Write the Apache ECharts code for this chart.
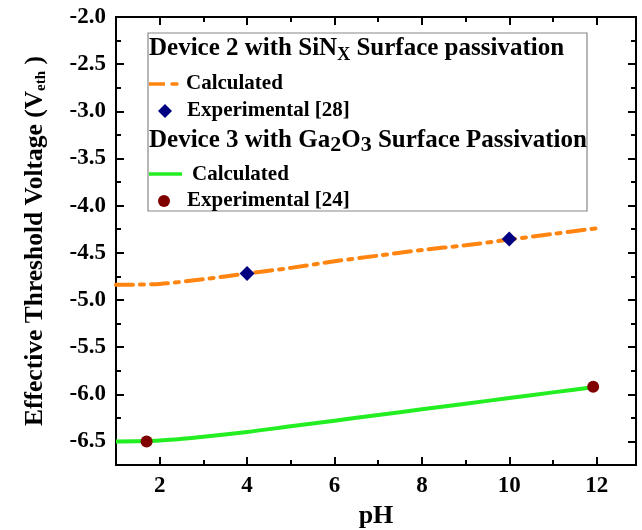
<!DOCTYPE html>
<html>
<head>
<meta charset="utf-8">
<script src="https://cdn.jsdelivr.net/npm/echarts@6/dist/echarts.min.js"></script>
<style>
html,body{margin:0;padding:0;background:#fff;}
#chart{width:642px;height:530px;}
</style>
</head>
<body>
<div id="chart"></div>
<script>
// ---- data ----
const calcPH = [1, 2, 3, 4, 5, 6, 7, 8, 9, 10, 11, 12];
const sinxCalc = [-4.84, -4.83, -4.78, -4.72, -4.66, -4.59, -4.53, -4.47, -4.42, -4.36, -4.30, -4.24];
const ga2o3Calc = [-6.50, -6.49, -6.45, -6.40, -6.34, -6.28, -6.22, -6.16, -6.10, -6.04, -5.98, -5.92];
const sinxExpPH = [4, 10];
const sinxExpV = [-4.72, -4.355];
const ga2o3ExpPH = [1.7, 11.92];
const ga2o3ExpV = [-6.50, -5.92];
const xMajorTicks = [2, 4, 6, 8, 10, 12];
const xMinorTicks = [3, 5, 7, 9, 11];
const yMajorTicks = [-6.5, -6.0, -5.5, -5.0, -4.5, -4.0, -3.5, -3.0, -2.5, -2.0];
const yMinorTicks = [-6.25, -5.75, -5.25, -4.75, -4.25, -3.75, -3.25, -2.75, -2.25];
const legendTitles = ['Device 2 with SiN', 'X', ' Surface passivation', 'Device 3 with Ga', '2', 'O', '3', ' Surface Passivation'];
const legendItems = ['Calculated', 'Experimental [28]', 'Calculated', 'Experimental [24]'];

const FONT = 'Liberation Serif, Times New Roman, serif';
const ORANGE = '#ff8410';
const GREEN = '#22ee22';
const NAVY = '#000080';
const DRED = '#800000';

const zip = (a, b) => a.map((v, i) => [v, b[i]]);
const near = (v, list) => list.some(t => Math.abs(t - v) < 1e-6);

function xAxisDef(pos, ticks, len, withLabels) {
  return {
    type: 'value', position: pos, min: 1, max: 12.9, interval: 1,
    axisLine: { show: true, onZero: false, lineStyle: { color: '#000', width: 2 } },
    axisTick: { show: true, inside: true, length: len, customValues: ticks, lineStyle: { color: '#000', width: 2 } },
    axisLabel: withLabels ? {
      show: true, showMaxLabel: false, margin: 10, color: '#000',
      fontFamily: FONT, fontWeight: 'bold', fontSize: 23,
      formatter: v => near(v, xMajorTicks) ? String(Math.round(v)) : ''
    } : { show: false },
    splitLine: { show: false }
  };
}
function yAxisDef(pos, ticks, len, withLabels) {
  return {
    type: 'value', position: pos, min: -6.75, max: -2.0, interval: 0.25,
    axisLine: { show: true, onZero: false, lineStyle: { color: '#000', width: 2 } },
    axisTick: { show: true, inside: true, length: len, customValues: ticks, lineStyle: { color: '#000', width: 2 } },
    axisLabel: withLabels ? {
      show: true, margin: 10, color: '#000',
      fontFamily: FONT, fontWeight: 'bold', fontSize: 23,
      formatter: v => near(v, yMajorTicks) ? Number(v).toFixed(1) : ''
    } : { show: false },
    splitLine: { show: false }
  };
}

const xa0 = xAxisDef('bottom', xMajorTicks, 8, true);
xa0.name = 'pH';
xa0.nameLocation = 'middle';
xa0.nameGap = 38;
xa0.nameTextStyle = { color: '#000', fontFamily: FONT, fontWeight: 'bold', fontSize: 26 };

const ya0 = yAxisDef('left', yMajorTicks, 8, true);
ya0.name = '{a|Effective Threshold Voltage (V}{s|eth}{a| )}';
ya0.nameLocation = 'middle';
ya0.nameRotate = 90;
ya0.nameGap = 67;
ya0.nameTextStyle = {
  color: '#000', fontFamily: FONT, fontWeight: 'bold', fontSize: 25,
  rich: {
    a: { color: '#000', fontFamily: FONT, fontWeight: 'bold', fontSize: 25.5, lineHeight: 27 },
    s: { color: '#000', fontFamily: FONT, fontWeight: 'bold', fontSize: 15, lineHeight: 12, verticalAlign: 'bottom' }
  }
};

const txt = (x, y, text, size, rich) => ({
  type: 'text', x: x, y: y, z: 11,
  style: { text: text, fill: '#000', fontFamily: FONT, fontWeight: 'bold', fontSize: size, verticalAlign: 'middle', align: 'left', rich: rich }
});

const titleRich1 = {
  a: { fill: '#000', fontFamily: FONT, fontWeight: 'bold', fontSize: 25, lineHeight: 30 },
  s: { fill: '#000', fontFamily: FONT, fontWeight: 'bold', fontSize: 18, lineHeight: 14, verticalAlign: 'bottom' }
};
const titleRich2 = {
  a: { fill: '#000', fontFamily: FONT, fontWeight: 'bold', fontSize: 25, lineHeight: 30 },
  s: { fill: '#000', fontFamily: FONT, fontWeight: 'bold', fontSize: 22, lineHeight: 20, verticalAlign: 'bottom' }
};

const option = {
  backgroundColor: '#fff',
  animation: false,
  textStyle: { fontFamily: FONT, fontWeight: 'bold', color: '#000' },
  grid: { left: 116, right: 6, top: 17, bottom: 65, containLabel: false, outerBoundsMode: 'none' },
  xAxis: [
    xa0,
    xAxisDef('bottom', xMinorTicks, 5, false),
    xAxisDef('top', xMajorTicks, 8, false),
    xAxisDef('top', xMinorTicks, 5, false)
  ],
  yAxis: [
    ya0,
    yAxisDef('left', yMinorTicks, 5, false),
    yAxisDef('right', yMajorTicks, 8, false),
    yAxisDef('right', yMinorTicks, 5, false)
  ],
  series: [
    {
      name: 'SiNx Calculated', type: 'line', data: zip(calcPH, sinxCalc), smooth: 0.3,
      showSymbol: false, symbol: 'none',
      lineStyle: { color: ORANGE, width: 4, type: [17, 7, 4, 7], cap: 'round' }, z: 2
    },
    {
      name: 'SiNx Experimental [28]', type: 'scatter', data: zip(sinxExpPH, sinxExpV),
      symbol: 'diamond', symbolSize: 15, itemStyle: { color: NAVY, opacity: 1 }, z: 3
    },
    {
      name: 'Ga2O3 Calculated', type: 'line', data: zip(calcPH, ga2o3Calc), smooth: 0.3,
      showSymbol: false, symbol: 'none',
      lineStyle: { color: GREEN, width: 4 }, z: 2
    },
    {
      name: 'Ga2O3 Experimental [24]', type: 'scatter', data: zip(ga2o3ExpPH, ga2o3ExpV),
      symbol: 'circle', symbolSize: 12, itemStyle: { color: DRED, opacity: 1 }, z: 3
    }
  ],
  graphic: [
    { type: 'rect', shape: { x: 148, y: 33, width: 439, height: 178 }, style: { fill: '#fff', stroke: '#888', lineWidth: 1.2 }, z: 10 },
    txt(149, 49, '{a|' + legendTitles[0] + '}{s|' + legendTitles[1] + '}{a|' + legendTitles[2] + '}', 25, titleRich1),
    { type: 'line', shape: { x1: 149, y1: 84, x2: 165, y2: 84 }, style: { stroke: ORANGE, lineWidth: 3.5 }, z: 11 },
    { type: 'line', shape: { x1: 172, y1: 84, x2: 177, y2: 84 }, style: { stroke: ORANGE, lineWidth: 3.5, lineCap: 'round' }, z: 11 },
    txt(186, 84, legendItems[0], 21),
    { type: 'polygon', shape: { points: [[165, 104], [172, 111], [165, 118], [158, 111]] }, style: { fill: NAVY }, z: 11 },
    txt(187, 111, legendItems[1], 21),
    txt(149, 141, '{a|' + legendTitles[3] + '}{s|' + legendTitles[4] + '}{a|' + legendTitles[5] + '}{s|' + legendTitles[6] + '}{a|' + legendTitles[7] + '}', 25, titleRich2),
    { type: 'line', shape: { x1: 149, y1: 174, x2: 182, y2: 174 }, style: { stroke: GREEN, lineWidth: 3.5 }, z: 11 },
    txt(192, 175, legendItems[2], 21),
    { type: 'circle', shape: { cx: 164, cy: 201, r: 6 }, style: { fill: DRED }, z: 11 },
    txt(187, 201, legendItems[3], 21)
  ]
};

const chart = echarts.init(document.getElementById('chart'), null, { renderer: 'canvas' });
chart.setOption(option);
</script>
</body>
</html>
